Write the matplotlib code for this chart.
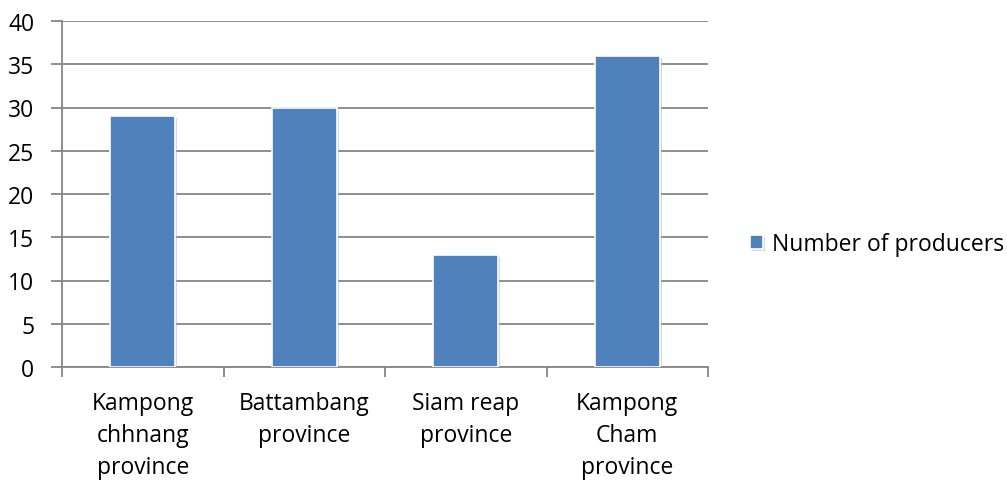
import matplotlib
matplotlib.use("Agg")
import matplotlib.pyplot as plt
import matplotlib.patheffects as pe
from matplotlib.ticker import FixedLocator, NullFormatter

categories = ["Kampong\nchhnang\nprovince", "Battambang\nprovince", "Siam reap\nprovince", "Kampong\nCham\nprovince"]
producers = [29, 30, 13, 36]
series_name = "Number of producers"
y_ticks = [0, 5, 10, 15, 20, 25, 30, 35, 40]

plt.rcParams["font.family"] = ["Open Sans", "DejaVu Sans"]
FS = 16.5

fig = plt.figure(figsize=(10.07, 4.81), dpi=100)
ax = fig.add_axes([62 / 1007, 113 / 481, 646 / 1007, 346 / 481])

grid_color = "#868686"
x = list(range(len(categories)))
bars = ax.bar(x, producers, width=0.4, color="#4F81BD", edgecolor="white",
              linewidth=1.2, label=series_name, zorder=3)
for b in bars:
    b.set_path_effects([pe.SimplePatchShadow(offset=(1.5, -1.5), shadow_rgbFace="#b0b0b0", alpha=0.5),
                        pe.Normal()])

ax.set_xlim(-0.5, len(categories) - 0.5)
ax.set_ylim(0, 40)
ax.set_yticks(y_ticks)
ax.yaxis.grid(True, color=grid_color, linewidth=1.3, zorder=0)
ax.set_axisbelow(True)

for side in ["top", "right"]:
    ax.spines[side].set_visible(False)
for side in ["left", "bottom"]:
    ax.spines[side].set_color(grid_color)
    ax.spines[side].set_linewidth(1.3)

# category labels centred, tick marks on the category boundaries
ax.set_xticks(x)
ax.set_xticklabels(categories, fontsize=FS, linespacing=1.45, color="#000000")
ax.tick_params(axis="x", length=0, pad=17)
ax.xaxis.set_minor_locator(FixedLocator([i - 0.5 for i in range(len(categories) + 1)]))
ax.xaxis.set_minor_formatter(NullFormatter())
ax.tick_params(axis="x", which="minor", length=7, width=1.3, color=grid_color)
ax.tick_params(axis="y", length=8, width=1.3, color=grid_color, labelsize=FS, pad=12,
               labelcolor="#000000")

fig.legend(handles=[bars], labels=[series_name], loc="center left",
           bbox_to_anchor=(750 / 1007, 1 - 245 / 481), frameon=False,
           borderpad=0, borderaxespad=0,
           fontsize=FS, handlelength=0.55, handleheight=0.55, handletextpad=0.4)

fig.savefig("out.png", dpi=100, facecolor="white")
